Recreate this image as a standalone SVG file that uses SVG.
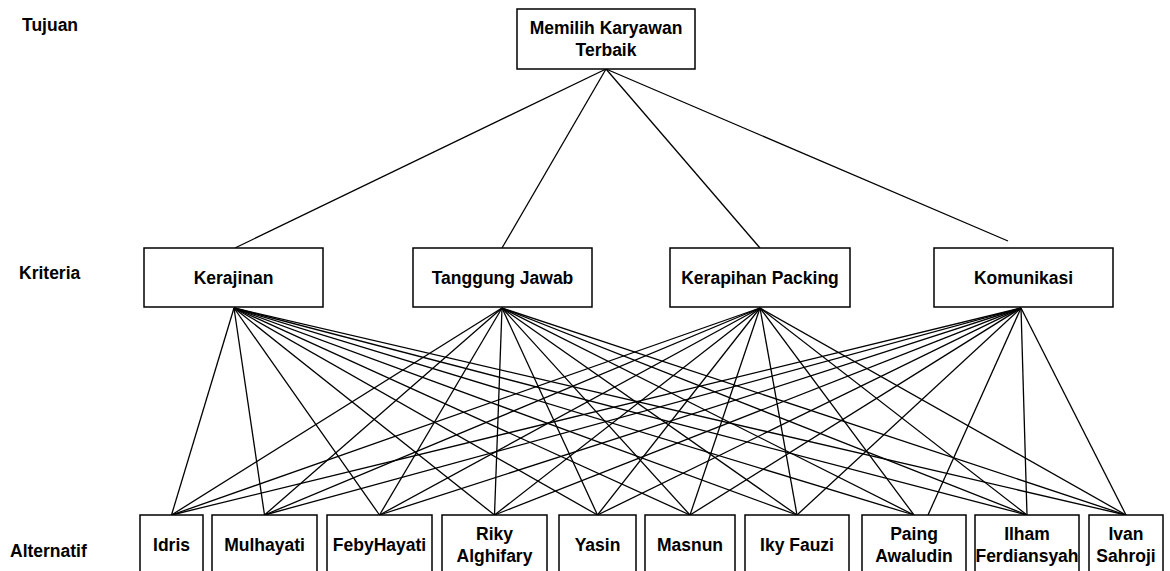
<svg xmlns="http://www.w3.org/2000/svg" width="1170" height="571" viewBox="0 0 1170 571">
  <style>
    .box { fill: #ffffff; stroke: #000000; stroke-width: 1.5; }
    .lbl { font-family: "Liberation Sans", Arial, sans-serif; font-size: 17.5px; font-weight: bold; fill: #000000; }
    .mid { text-anchor: middle; }
    .edge { stroke: #000000; stroke-width: 1.3; fill: none; }
  </style>
  <rect width="1170" height="571" fill="#ffffff"/>

  <!-- level labels -->
  <g id="level-labels">
    <text class="lbl" x="22" y="31">Tujuan</text>
    <text class="lbl" x="19" y="279">Kriteria</text>
    <text class="lbl" x="10" y="557">Alternatif</text>
  </g>

  <!-- connectors -->
  <g id="connectors" class="edge">
    <!-- goal to criteria -->
    <line x1="606" y1="69" x2="235" y2="248"/>
    <line x1="606" y1="69" x2="502" y2="248"/>
    <line x1="606" y1="69" x2="760" y2="248"/>
    <line x1="606" y1="69" x2="1008" y2="241"/>
    <!-- Kerajinan to alternatives -->
    <line x1="234" y1="308" x2="171.5" y2="515"/>
    <line x1="234" y1="308" x2="264.5" y2="515"/>
    <line x1="234" y1="308" x2="379.5" y2="515"/>
    <line x1="234" y1="308" x2="494.5" y2="515"/>
    <line x1="234" y1="308" x2="597.5" y2="515"/>
    <line x1="234" y1="308" x2="690" y2="515"/>
    <line x1="234" y1="308" x2="797" y2="515"/>
    <line x1="234" y1="308" x2="914" y2="515"/>
    <line x1="234" y1="308" x2="1027" y2="515"/>
    <line x1="234" y1="308" x2="1126" y2="515"/>
    <!-- Tanggung Jawab to alternatives -->
    <line x1="502" y1="308" x2="171.5" y2="515"/>
    <line x1="502" y1="308" x2="264.5" y2="515"/>
    <line x1="502" y1="308" x2="379.5" y2="515"/>
    <line x1="502" y1="308" x2="494.5" y2="515"/>
    <line x1="502" y1="308" x2="597.5" y2="515"/>
    <line x1="502" y1="308" x2="690" y2="515"/>
    <line x1="502" y1="308" x2="797" y2="515"/>
    <line x1="502" y1="308" x2="914" y2="515"/>
    <line x1="502" y1="308" x2="1027" y2="515"/>
    <line x1="502" y1="308" x2="1126" y2="515"/>
    <!-- Kerapihan Packing to alternatives -->
    <line x1="760" y1="308" x2="171.5" y2="515"/>
    <line x1="760" y1="308" x2="264.5" y2="515"/>
    <line x1="760" y1="308" x2="379.5" y2="515"/>
    <line x1="760" y1="308" x2="494.5" y2="515"/>
    <line x1="760" y1="308" x2="597.5" y2="515"/>
    <line x1="760" y1="308" x2="690" y2="515"/>
    <line x1="760" y1="308" x2="797" y2="515"/>
    <line x1="760" y1="308" x2="914" y2="515"/>
    <line x1="760" y1="308" x2="1027" y2="515"/>
    <line x1="760" y1="308" x2="1126" y2="515"/>
    <!-- Komunikasi to alternatives -->
    <line x1="1021" y1="308" x2="171.5" y2="515"/>
    <line x1="1021" y1="308" x2="264.5" y2="515"/>
    <line x1="1021" y1="308" x2="379.5" y2="515"/>
    <line x1="1021" y1="308" x2="494.5" y2="515"/>
    <line x1="1021" y1="308" x2="597.5" y2="515"/>
    <line x1="1021" y1="308" x2="690" y2="515"/>
    <line x1="1021" y1="308" x2="797" y2="515"/>
    <line x1="1021" y1="308" x2="928" y2="515"/>
    <line x1="1021" y1="308" x2="1027" y2="515"/>
    <line x1="1021" y1="308" x2="1126" y2="515"/>
  </g>

  <!-- goal -->
  <g id="goal">
    <rect class="box" x="517" y="9" width="178" height="60"/>
    <text class="lbl mid" x="606" y="34">Memilih Karyawan</text>
    <text class="lbl mid" x="606" y="56">Terbaik</text>
  </g>

  <!-- criteria -->
  <g id="kerajinan">
    <rect class="box" x="144" y="248" width="179" height="59"/>
    <text class="lbl mid" x="233.5" y="283.5">Kerajinan</text>
  </g>
  <g id="tanggung-jawab">
    <rect class="box" x="413" y="248" width="179" height="59"/>
    <text class="lbl mid" x="502.5" y="283.5">Tanggung Jawab</text>
  </g>
  <g id="kerapihan-packing">
    <rect class="box" x="670" y="248" width="180" height="59"/>
    <text class="lbl mid" x="760" y="283.5">Kerapihan Packing</text>
  </g>
  <g id="komunikasi">
    <rect class="box" x="934" y="248" width="179" height="59"/>
    <text class="lbl mid" x="1023.5" y="283.5">Komunikasi</text>
  </g>

  <!-- alternatives -->
  <g id="idris">
    <rect class="box" x="140" y="515" width="63" height="60"/>
    <text class="lbl mid" x="171.5" y="551">Idris</text>
  </g>
  <g id="mulhayati">
    <rect class="box" x="212" y="515" width="105" height="60"/>
    <text class="lbl mid" x="264.5" y="551">Mulhayati</text>
  </g>
  <g id="febyhayati">
    <rect class="box" x="327" y="515" width="105" height="60"/>
    <text class="lbl mid" x="379.5" y="551">FebyHayati</text>
  </g>
  <g id="riky">
    <rect class="box" x="442" y="515" width="105" height="60"/>
    <text class="lbl mid" x="494.5" y="540">Riky</text>
    <text class="lbl mid" x="494.5" y="562">Alghifary</text>
  </g>
  <g id="yasin">
    <rect class="box" x="559" y="515" width="77" height="60"/>
    <text class="lbl mid" x="597.5" y="551">Yasin</text>
  </g>
  <g id="masnun">
    <rect class="box" x="645" y="515" width="90" height="60"/>
    <text class="lbl mid" x="690" y="551">Masnun</text>
  </g>
  <g id="iky-fauzi">
    <rect class="box" x="745" y="515" width="104" height="60"/>
    <text class="lbl mid" x="797" y="551">Iky Fauzi</text>
  </g>
  <g id="paing">
    <rect class="box" x="862" y="515" width="104" height="60"/>
    <text class="lbl mid" x="914" y="540">Paing</text>
    <text class="lbl mid" x="914" y="562">Awaludin</text>
  </g>
  <g id="ilham">
    <rect class="box" x="975" y="515" width="104" height="60"/>
    <text class="lbl mid" x="1027" y="540">Ilham</text>
    <text class="lbl mid" x="1027" y="562">Ferdiansyah</text>
  </g>
  <g id="ivan">
    <rect class="box" x="1089" y="515" width="74" height="60"/>
    <text class="lbl mid" x="1126" y="540">Ivan</text>
    <text class="lbl mid" x="1126" y="562">Sahroji</text>
  </g>
</svg>
